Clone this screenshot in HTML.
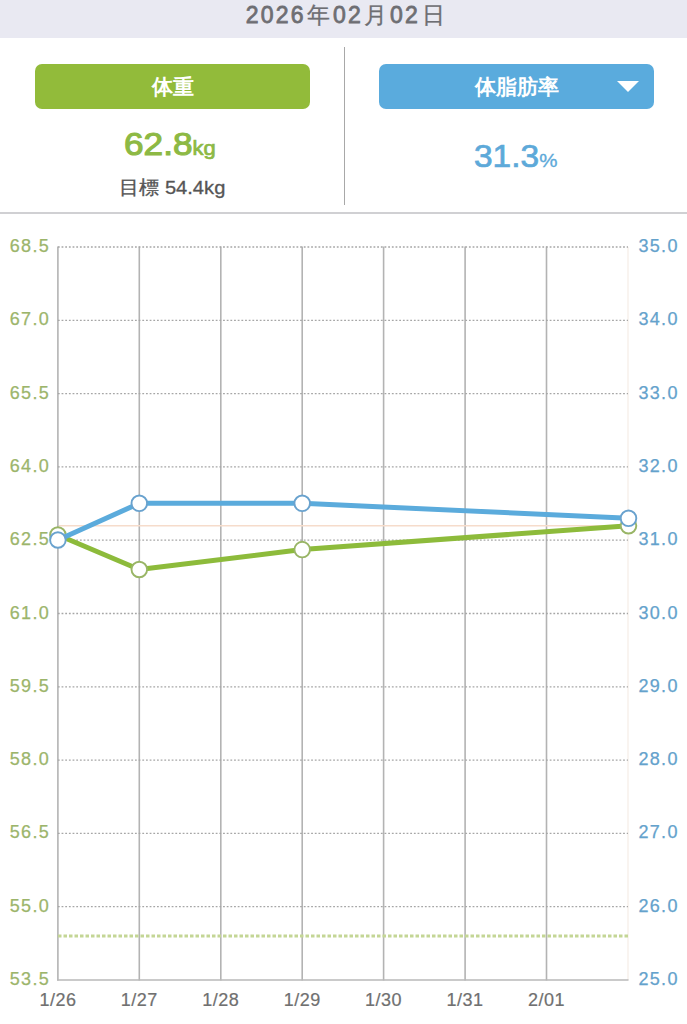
<!DOCTYPE html>
<html><head><meta charset="utf-8">
<style>
html,body{margin:0;padding:0;background:#fff;}
body{width:687px;height:1024px;overflow:hidden;position:relative;font-family:"Liberation Sans",sans-serif;}
.band{position:absolute;left:0;top:0;width:687px;height:38px;background:#E9E9F2;}
.date{position:absolute;left:0;top:0;width:687px;height:38px;line-height:31px;text-align:center;color:#6E6E73;font-size:23px;letter-spacing:2.2px;text-indent:6px;-webkit-text-stroke:0.8px #6E6E73;}
.cj{-webkit-text-stroke:0.3px #6E6E73;margin:0 0.5px 0 1.5px;}
.btn{position:absolute;top:64px;height:45px;border-radius:7px;color:#fff;font-size:21px;font-weight:bold;text-align:center;line-height:45px;}
.g{left:35px;width:275px;background:#92BB3A;}
.b{left:379px;width:275px;background:#5AABDD;}
.tri{position:absolute;left:617px;top:81px;width:0;height:0;border-left:11px solid transparent;border-right:11px solid transparent;border-top:11px solid #fff;}
.div{position:absolute;left:344px;top:47px;width:1px;height:158px;background:#A8A8A8;}
.sep{position:absolute;left:0;top:212px;width:687px;height:2px;background:#D0D0D3;}
.val{position:absolute;white-space:nowrap;}
</style></head><body>
<div class="band"></div>
<div class="date">2026<span class="cj">年</span>02<span class="cj">月</span>02<span class="cj">日</span></div>
<div class="btn g">体重</div>
<div class="btn b">体脂肪率</div>

<div class="div"></div>
<div class="sep"></div>
<div class="val" style="left:124px;top:126px;color:#8DB944;transform:scaleX(1.1);transform-origin:0 0;"><span style="font-size:32px;-webkit-text-stroke:1.1px #8DB944;">62.8</span><span style="font-size:20px;-webkit-text-stroke:0.7px #8DB944;">kg</span></div>
<div class="val" style="left:119px;top:175px;color:#555;font-size:19px;transform:scaleX(1.06);transform-origin:0 0;-webkit-text-stroke:0.3px #555;">目標 54.4kg</div>
<div class="val" style="left:474px;top:139px;color:#5DA9D9;transform:scaleX(1.08);transform-origin:0 0;"><span style="font-size:31px;-webkit-text-stroke:0.7px #5DA9D9;">31.3</span><span style="font-size:19px;-webkit-text-stroke:0.3px #5DA9D9;">%</span></div>

<svg width="687" height="1024" style="position:absolute;left:0;top:0">
<polygon points="617,81 639,81 628,92" fill="#fff"/>
<g stroke="#B3B3B3" stroke-width="1.6">
<line x1="57.9" y1="246.5" x2="57.9" y2="980.5"/>
<line x1="139.3" y1="246.5" x2="139.3" y2="980.5"/>
<line x1="220.8" y1="246.5" x2="220.8" y2="980.5"/>
<line x1="302.2" y1="246.5" x2="302.2" y2="980.5"/>
<line x1="383.6" y1="246.5" x2="383.6" y2="980.5"/>
<line x1="465.1" y1="246.5" x2="465.1" y2="980.5"/>
<line x1="546.5" y1="246.5" x2="546.5" y2="980.5"/>
</g>
<line x1="628" y1="247" x2="628" y2="980" stroke="#F7F0EB" stroke-width="1.5"/>
<g stroke="#A6A6A6" stroke-width="1.3" stroke-dasharray="1.8 1.87">
<line x1="57.9" y1="247" x2="628" y2="247"/>
<line x1="57.9" y1="320.3" x2="628" y2="320.3"/>
<line x1="57.9" y1="393.6" x2="628" y2="393.6"/>
<line x1="57.9" y1="466.9" x2="628" y2="466.9"/>
<line x1="57.9" y1="540.2" x2="628" y2="540.2"/>
<line x1="57.9" y1="613.5" x2="628" y2="613.5"/>
<line x1="57.9" y1="686.8" x2="628" y2="686.8"/>
<line x1="57.9" y1="760.1" x2="628" y2="760.1"/>
<line x1="57.9" y1="833.4" x2="628" y2="833.4"/>
<line x1="57.9" y1="906.7" x2="628" y2="906.7"/>
</g>
<line x1="57" y1="980" x2="628.5" y2="980" stroke="#B8B8B8" stroke-width="1.6"/>
<line x1="58" y1="936" x2="628" y2="936" stroke="#C4D695" stroke-width="3" stroke-dasharray="3.5 2"/>
<line x1="59" y1="525.8" x2="628" y2="525.8" stroke="#F6DCCB" stroke-width="1.6"/>
<polyline points="57.9,535 139.3,569.5 302.2,549.6 628.5,525.7" fill="none" stroke="#8DBB3B" stroke-width="5" stroke-linejoin="round"/>
<g fill="#fff" stroke="#99B566" stroke-width="1.9">
<circle cx="57.9" cy="535" r="7.8"/>
<circle cx="139.3" cy="569.5" r="7.8"/>
<circle cx="302.2" cy="549.6" r="7.8"/>
<circle cx="628.5" cy="525.7" r="7.8"/>
</g>
<polyline points="57.9,540 139.3,503.3 302.2,503.3 628.5,518.3" fill="none" stroke="#5BABDC" stroke-width="5" stroke-linejoin="round"/>
<g fill="#fff" stroke="#69A2CE" stroke-width="1.9">
<circle cx="57.9" cy="540" r="7.8"/>
<circle cx="139.3" cy="503.3" r="7.8"/>
<circle cx="302.2" cy="503.3" r="7.8"/>
<circle cx="628.5" cy="518.3" r="7.8"/>
</g>
<g fill="#9CB56B" font-family="Liberation Sans, sans-serif" font-size="18" letter-spacing="1.3" stroke="#9CB56B" stroke-width="0.25" text-anchor="end">
<text x="50" y="252">68.5</text>
<text x="50" y="325.3">67.0</text>
<text x="50" y="398.6">65.5</text>
<text x="50" y="471.9">64.0</text>
<text x="50" y="545.2">62.5</text>
<text x="50" y="618.5">61.0</text>
<text x="50" y="691.8">59.5</text>
<text x="50" y="765.1">58.0</text>
<text x="50" y="838.4">56.5</text>
<text x="50" y="911.7">55.0</text>
<text x="50" y="985">53.5</text>
</g>
<g fill="#64A2CC" font-family="Liberation Sans, sans-serif" font-size="18" letter-spacing="1.3" stroke="#64A2CC" stroke-width="0.25" text-anchor="start">
<text x="638.5" y="252">35.0</text>
<text x="638.5" y="325.3">34.0</text>
<text x="638.5" y="398.6">33.0</text>
<text x="638.5" y="471.9">32.0</text>
<text x="638.5" y="545.2">31.0</text>
<text x="638.5" y="618.5">30.0</text>
<text x="638.5" y="691.8">29.0</text>
<text x="638.5" y="765.1">28.0</text>
<text x="638.5" y="838.4">27.0</text>
<text x="638.5" y="911.7">26.0</text>
<text x="638.5" y="985">25.0</text>
</g>
<g fill="#707070" font-family="Liberation Sans, sans-serif" font-size="18" letter-spacing="0.5" stroke="#707070" stroke-width="0.2" text-anchor="middle">
<text x="57.9" y="1006">1/26</text>
<text x="139.3" y="1006">1/27</text>
<text x="220.8" y="1006">1/28</text>
<text x="302.2" y="1006">1/29</text>
<text x="383.6" y="1006">1/30</text>
<text x="465.1" y="1006">1/31</text>
<text x="546.5" y="1006">2/01</text>
</g>
</svg>
</body></html>
